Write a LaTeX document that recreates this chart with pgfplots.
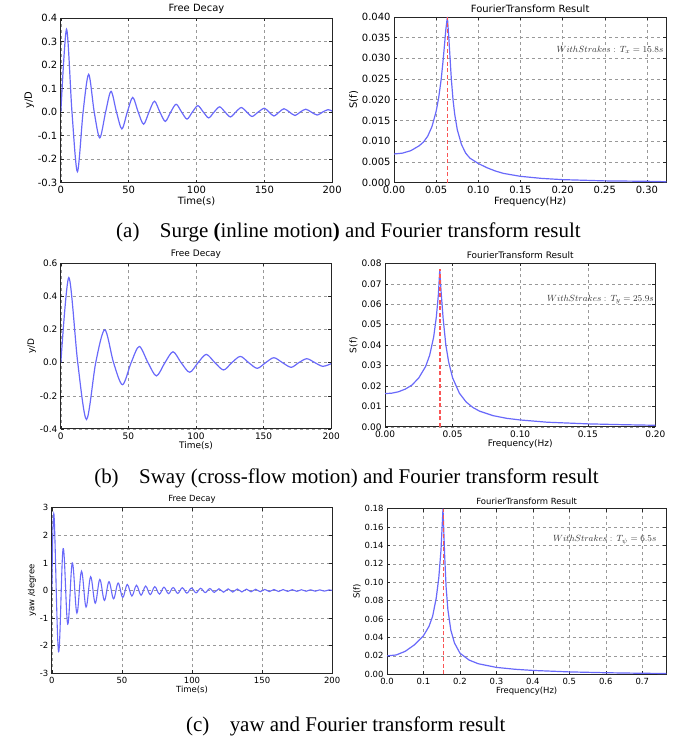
\documentclass[border=0pt]{standalone}
\usepackage{pgfplots}
\pgfplotsset{compat=1.18}
\usepackage{fontspec}
\setmainfont{DejaVu Sans}
\newfontfamily\capfont{Liberation Serif}
\definecolor{sig}{RGB}{105,105,250}
\definecolor{ffred}{RGB}{250,85,85}

\pgfplotsset{
  base/.style={
    scale only axis,
    axis line style={black!85, line width=0.9pt},
    grid=major,
    grid style={dashed, black!40, line width=0.5pt},
    major tick length=3pt,
    tick style={black!85, line width=0.5pt},
    /pgf/number format/assume math mode=true,
    /pgf/number format/fixed,
    /pgf/number format/fixed zerofill,
    title style={yshift=-5pt},
    xlabel style={yshift=4pt},
    ylabel style={yshift=-3pt},
  },
  fs/.style={tick label style={font=\fontsize{#1}{#1}\selectfont},
             label style={font=\fontsize{#1}{#1}\selectfont},
             title style={font=\fontsize{#1}{#1}\selectfont}},
}
\tikzset{
  sigline/.style={sig, line width=1.2pt, smooth},
  ffline/.style={sig, line width=1.2pt},
  ann/.style={anchor=east, inner sep=0pt, font=\fontsize{9.5}{10}\selectfont, text=black!80},
  capnode/.style={anchor=base west, font=\capfont\fontsize{21}{23}\selectfont},
}

\begin{document}
\begin{tikzpicture}
\path (0,0) rectangle (690pt,739pt);

% ---------------- Row (a) ----------------
\begin{axis}[base, fs=10, at={(61pt,556pt)}, anchor=south west,
  width=272pt, height=165pt,
  xmin=0, xmax=200, ymin=-0.3, ymax=0.4,
  xtick={0,50,100,150,200}, ytick={-0.3,-0.2,-0.1,0,0.1,0.2,0.3,0.4},
  xticklabel style={/pgf/number format/precision=0},
  yticklabel style={/pgf/number format/precision=1},
  title={Free Decay}, xlabel={Time(s)}, ylabel={y/D}]
\addplot[sigline] coordinates {
(0,0) (4.2,0.352) (8.2,0) (12.2,-0.254) (16.4,0) (20.5,0.160) (24.6,0)
(28.7,-0.110) (33,0) (37,0.088) (41,0) (45,-0.072) (49,0) (53,0.062)
(57,0) (61,-0.052) (65,0) (69,0.046) (73,0) (77,-0.040) (81,0) (85,0.033)
(89,0) (93,-0.030) (97,0) (101,0.027) (105,0) (109,-0.025) (113,0)
(117,0.022) (121,0) (125,-0.021) (129,0) (133,0.019) (137,0) (141,-0.019)
(145.5,0) (150,0.016) (153.5,0) (157,-0.017) (161,0) (164.5,0.014)
(168.5,0) (172.6,-0.015) (176.5,0) (180.5,0.012) (184.5,0) (189,-0.013)
(193,0) (197,0.010) (200,0.004)};
\end{axis}

\begin{axis}[base, fs=10, at={(395pt,556pt)}, anchor=south west,
  width=273pt, height=166pt,
  xmin=0, xmax=0.323, ymin=0, ymax=0.040,
  xtick={0,0.05,0.10,0.15,0.20,0.25,0.30},
  ytick={0,0.005,0.010,0.015,0.020,0.025,0.030,0.035,0.040},
  xticklabel style={/pgf/number format/precision=2},
  yticklabel style={/pgf/number format/precision=3},
  scaled ticks=false,
  title={FourierTransform Result}, xlabel={Frequency(Hz)}, ylabel={S(f)}]
\addplot[ffline] coordinates {
(0.000,0.0069) (0.010,0.0071) (0.020,0.0077) (0.030,0.0089) (0.035,0.0098)
(0.040,0.0112) (0.045,0.0135) (0.050,0.0172) (0.053,0.0205) (0.056,0.0250)
(0.058,0.0290) (0.060,0.0335) (0.0615,0.0370) (0.0633,0.0400) (0.065,0.0350)
(0.0665,0.0300) (0.068,0.0250) (0.070,0.0200) (0.072,0.0165) (0.075,0.0128)
(0.080,0.0092) (0.085,0.0071) (0.090,0.0059) (0.100,0.0046) (0.110,0.0036)
(0.120,0.0028) (0.130,0.0022) (0.150,0.0015) (0.175,0.0010) (0.200,0.0007)
(0.250,0.0004) (0.300,0.0003) (0.323,0.0002)};
\addplot[draw=ffred, dash pattern=on 4pt off 2.5pt, line width=1.6pt] coordinates {(0.0636,0) (0.0636,0.040)};
\node[ann] at (rel axis cs:0.99,0.80) {$WithStrakes:\,T_x=15.8s$};
\end{axis}

\node[capnode] at (113pt,501pt)
  {(a)\hspace{20.5pt}Surge \textbf{(}inline motion\textbf{)} and Fourier transform result};

% ---------------- Row (b) ----------------
\begin{axis}[base, fs=9, at={(61pt,309pt)}, anchor=south west,
  width=271pt, height=166pt,
  xmin=0, xmax=200, ymin=-0.4, ymax=0.6,
  xtick={0,50,100,150,200}, ytick={-0.4,-0.2,0,0.2,0.4,0.6},
  xticklabel style={/pgf/number format/precision=0},
  yticklabel style={/pgf/number format/precision=1},
  title={Free Decay}, xlabel={Time(s)}, ylabel={y/D}]
\addplot[sigline] coordinates {
(0,0) (5.9,0.514) (12.5,0) (19,-0.343) (25.8,0) (32.5,0.199) (39,0)
(45.6,-0.133) (52,0) (58,0.098) (64.5,0) (70.7,-0.080) (77,0) (83,0.066)
(89,0) (95.3,-0.058) (101.5,0) (107.6,0.050) (114,0) (120.4,-0.044)
(126.5,0) (132.8,0.038) (139,0) (145.3,-0.034) (151.5,0) (157.6,0.030)
(164,0) (170.4,-0.028) (176,0) (182,0.024) (188,0) (193.8,-0.022) (200,-0.006)};
\end{axis}

\begin{axis}[base, fs=9, at={(386pt,311pt)}, anchor=south west,
  width=271pt, height=164pt,
  xmin=0, xmax=0.2, ymin=0, ymax=0.08,
  xtick={0,0.05,0.10,0.15,0.20},
  ytick={0,0.01,0.02,0.03,0.04,0.05,0.06,0.07,0.08},
  xticklabel style={/pgf/number format/precision=2},
  yticklabel style={/pgf/number format/precision=2},
  scaled ticks=false,
  title={FourierTransform Result}, xlabel={Frequency(Hz)}, ylabel={S(f)}]
\addplot[ffline] coordinates {
(0.000,0.0163) (0.005,0.0165) (0.010,0.0172) (0.015,0.0185) (0.020,0.0205)
(0.025,0.0240) (0.030,0.0295) (0.033,0.0350) (0.036,0.0440) (0.038,0.0540)
(0.0395,0.0650) (0.0405,0.0770) (0.0415,0.0660) (0.043,0.0530) (0.045,0.0400)
(0.047,0.0320) (0.050,0.0240) (0.055,0.0165) (0.060,0.0122) (0.065,0.0095)
(0.070,0.0077) (0.080,0.0055) (0.090,0.0042) (0.100,0.0034) (0.120,0.0023)
(0.150,0.0015) (0.175,0.0011) (0.200,0.0008)};
\addplot[draw=ffred, dash pattern=on 4pt off 2.5pt, line width=1.6pt] coordinates {(0.0405,0) (0.0405,0.077)};
\node[ann] at (rel axis cs:0.995,0.78) {$WithStrakes:\,T_y=25.9s$};
\end{axis}

\node[capnode] at (91pt,254pt)
  {(b)\hspace{20.5pt}Sway (cross-flow motion) and Fourier transform result};

% ---------------- Row (c) ----------------
\begin{axis}[base, fs=8.5, at={(52pt,64pt)}, anchor=south west,
  width=281pt, height=166pt,
  xmin=0, xmax=200, ymin=-3, ymax=3,
  xtick={0,50,100,150,200}, ytick={-3,-2,-1,0,1,2,3},
  xticklabel style={/pgf/number format/precision=0},
  yticklabel style={/pgf/number format/precision=0},
  title={Free Decay}, xlabel={Time(s)}, ylabel={yaw /degree}]
\addplot[sig, line width=1.1pt, smooth, tension=0.6] coordinates {
(0,0) (1.50,2.75) (4.77,-2.22) (8.04,1.52) (11.31,-1.22) (14.58,1.00)
(17.85,-0.82) (21.12,0.70) (24.39,-0.60) (27.66,0.50) (30.93,-0.46)
(34.20,0.40) (37.47,-0.36) (40.74,0.32) (44.01,-0.30) (47.28,0.27)
(50.55,-0.25) (53.82,0.22) (57.09,-0.20) (60.36,0.19) (63.63,-0.17)
(66.90,0.16) (70.17,-0.15) (73.44,0.14) (76.71,-0.13) (79.98,0.12)
(83.25,-0.115) (86.52,0.11) (89.79,-0.105) (93.06,0.10) (96.33,-0.095)
(99.60,0.09) (102.87,-0.085) (106.14,0.08) (109.41,-0.075) (112.68,0.07)
(115.95,-0.068) (119.22,0.065) (122.49,-0.062) (125.76,0.06) (129.03,-0.057)
(132.30,0.055) (135.57,-0.052) (138.84,0.05) (142.11,-0.047) (145.38,0.045)
(148.65,-0.043) (151.92,0.04) (155.19,-0.039) (158.46,0.037) (161.73,-0.035)
(165.00,0.034) (168.27,-0.032) (171.54,0.031) (174.81,-0.030) (178.08,0.028)
(181.35,-0.027) (184.62,0.026) (187.89,-0.025) (191.16,0.024) (194.43,-0.023)
(197.70,0.022) (200,0)};
\end{axis}

\begin{axis}[base, fs=8.5, at={(388pt,63pt)}, anchor=south west,
  width=280pt, height=166pt,
  xmin=0, xmax=0.766, ymin=0, ymax=0.18,
  xtick={0,0.1,0.2,0.3,0.4,0.5,0.6,0.7},
  ytick={0,0.02,0.04,0.06,0.08,0.10,0.12,0.14,0.16,0.18},
  xticklabel style={/pgf/number format/precision=1},
  yticklabel style={/pgf/number format/precision=2},
  scaled ticks=false,
  title={FourierTransform Result}, xlabel={Frequency(Hz)}, ylabel={S(f)}]
\addplot[ffline] coordinates {
(0.000,0.0200) (0.025,0.0210) (0.050,0.0250) (0.075,0.0320) (0.100,0.0420)
(0.115,0.0520) (0.125,0.0630) (0.135,0.0830) (0.142,0.1050) (0.148,0.1350)
(0.1535,0.1800) (0.158,0.1300) (0.162,0.0950) (0.167,0.0700) (0.175,0.0480)
(0.185,0.0340) (0.200,0.0230) (0.225,0.0155) (0.250,0.0115) (0.300,0.0075)
(0.350,0.0055) (0.400,0.0042) (0.500,0.0026) (0.600,0.0017) (0.700,0.0011)
(0.766,0.0009)};
\addplot[draw=ffred, dash pattern=on 4pt off 2.5pt, line width=1.6pt] coordinates {(0.155,0) (0.155,0.18)};
\node[ann] at (rel axis cs:0.965,0.81) {$WithStrakes:\,T_\psi=6.5s$};
\end{axis}

\node[capnode] at (183pt,6pt)
  {(c)\hspace{20.5pt}yaw and Fourier transform result};
\end{tikzpicture}
\end{document}
